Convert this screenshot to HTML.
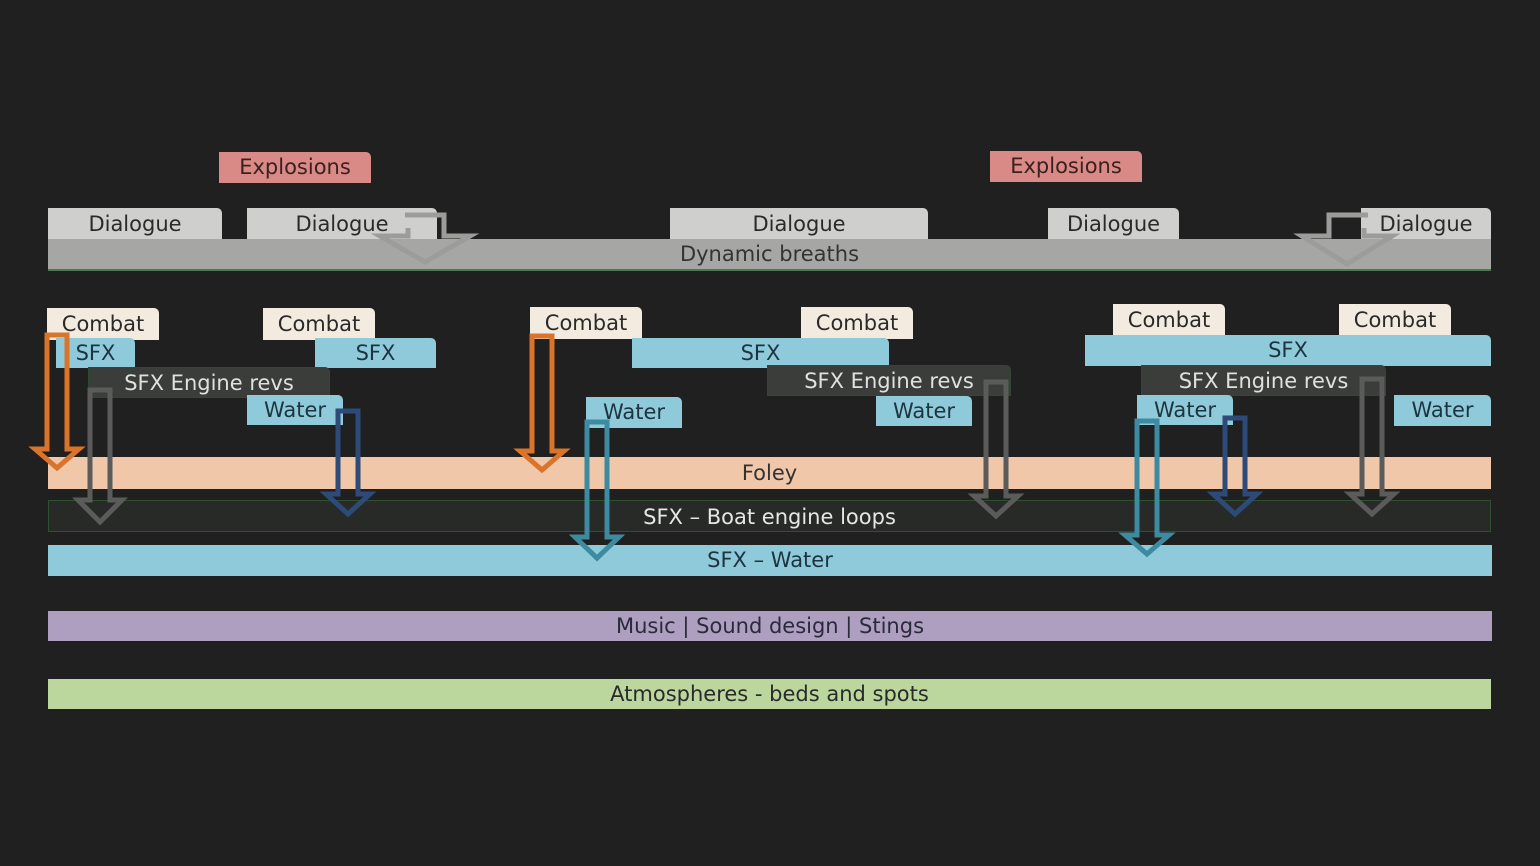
<!DOCTYPE html>
<html><head><meta charset="utf-8"><style>
html,body{margin:0;padding:0;background:#1f201f;}
body{width:1540px;height:866px;position:relative;overflow:hidden;font-family:"DejaVu Sans","Liberation Sans",sans-serif;}
.b{position:absolute;text-align:center;font-size:21px;color:#2a2a2a;border-top-right-radius:5px;box-sizing:border-box;white-space:nowrap;}
.exp{background:#d98a86;color:#3a2020;}
.dia{background:#cfd0cd;color:#2a2a2a;}
.com{background:#f3ebe0;color:#2a2a2a;}
.sfx{background:#8ecad9;color:#1d3440;}
.eng{background:#3b3d3b;color:#e0e0e0;border:1px solid #2f4a30;}
.bar{position:absolute;text-align:center;font-size:21px;box-sizing:border-box;}
</style></head><body>

<div class="b exp" style="left:219px;top:152px;width:152px;height:31px;line-height:31px;">Explosions</div>
<div class="b exp" style="left:990px;top:151px;width:152px;height:31px;line-height:31px;">Explosions</div>

<div class="b dia" style="left:48px;top:208px;width:174px;height:32px;line-height:32px;">Dialogue</div>
<div class="b dia" style="left:247px;top:208px;width:190px;height:32px;line-height:32px;padding-right:90px;padding-left:0;"><span style="position:relative;left:45px">Dialogue</span></div>
<div class="b dia" style="left:670px;top:208px;width:258px;height:32px;line-height:32px;">Dialogue</div>
<div class="b dia" style="left:1048px;top:208px;width:131px;height:32px;line-height:32px;">Dialogue</div>
<div class="b dia" style="left:1361px;top:208px;width:130px;height:32px;line-height:32px;">Dialogue</div>

<div class="bar" style="left:48px;top:239px;width:1443px;height:32px;line-height:31px;background:#a6a7a4;color:#333;border-bottom:2px solid #4c7a4e;">Dynamic breaths</div>

<div class="b com" style="left:47px;top:308px;width:112px;height:32px;line-height:32px;">Combat</div>
<div class="b com" style="left:263px;top:308px;width:112px;height:32px;line-height:32px;">Combat</div>
<div class="b com" style="left:530px;top:307px;width:112px;height:32px;line-height:32px;">Combat</div>
<div class="b com" style="left:801px;top:307px;width:112px;height:32px;line-height:32px;">Combat</div>
<div class="b com" style="left:1113px;top:304px;width:112px;height:32px;line-height:32px;">Combat</div>
<div class="b com" style="left:1339px;top:304px;width:112px;height:32px;line-height:32px;">Combat</div>

<div class="b sfx" style="left:56px;top:338px;width:79px;height:30px;line-height:30px;">SFX</div>
<div class="b sfx" style="left:315px;top:338px;width:121px;height:30px;line-height:30px;">SFX</div>
<div class="b sfx" style="left:632px;top:338px;width:257px;height:30px;line-height:30px;">SFX</div>
<div class="b sfx" style="left:1085px;top:335px;width:406px;height:31px;line-height:31px;">SFX</div>

<div class="b eng" style="left:88px;top:367px;width:242px;height:31px;line-height:31px;">SFX Engine revs</div>
<div class="b eng" style="left:767px;top:365px;width:244px;height:31px;line-height:31px;">SFX Engine revs</div>
<div class="b eng" style="left:1141px;top:365px;width:245px;height:31px;line-height:31px;">SFX Engine revs</div>

<div class="b sfx" style="left:247px;top:395px;width:96px;height:30px;line-height:30px;">Water</div>
<div class="b sfx" style="left:586px;top:397px;width:96px;height:31px;line-height:31px;">Water</div>
<div class="b sfx" style="left:876px;top:396px;width:96px;height:30px;line-height:30px;">Water</div>
<div class="b sfx" style="left:1137px;top:395px;width:96px;height:30px;line-height:30px;">Water</div>
<div class="b sfx" style="left:1394px;top:395px;width:97px;height:31px;line-height:31px;">Water</div>

<div class="bar" style="left:48px;top:457px;width:1443px;height:32px;line-height:32px;background:#f0c7a8;color:#333;">Foley</div>
<div class="bar" style="left:48px;top:500px;width:1443px;height:32px;line-height:32px;background:#282a28;color:#e6e6e6;border:1px solid #2f5030;">SFX – Boat engine loops</div>
<div class="bar" style="left:48px;top:545px;width:1444px;height:31px;line-height:31px;background:#8ecad9;color:#1d3440;">SFX – Water</div>
<div class="bar" style="left:48px;top:611px;width:1444px;height:30px;line-height:30px;background:#ae9fc0;color:#2a2a3a;">Music | Sound design | Stings</div>
<div class="bar" style="left:48px;top:679px;width:1443px;height:30px;line-height:30px;background:#bcd79e;color:#2a2a2a;">Atmospheres - beds and spots</div>

<svg width="1540" height="866" style="position:absolute;left:0;top:0" fill="none" stroke-width="5" stroke-linejoin="miter">
<path d="M405 215 H444 V236 H470 L425 262 L380 236 H408 V228" stroke="#9c9d9a"/>
<path d="M1368 215 H1329 V236 H1302 L1347 264 L1392 236 H1364 V228" stroke="#9c9d9a"/>
<path d="M47 335 H67 V449 H79 L57 468 L35 449 H47 Z" stroke="#d9742a"/>
<path d="M532 336 H552 V451 H564 L542 470 L520 451 H532 Z" stroke="#d9742a"/>
<path d="M90 390 H110 V500 H122 L100 522 L78 500 H90 Z" stroke="#5a5b5a"/>
<path d="M338 411 H358 V494 H370 L348 514 L326 494 H338 Z" stroke="#2d4a78"/>
<path d="M587 422 H607 V537 H619 L597 558 L575 537 H587 Z" stroke="#3e8aa0"/>
<path d="M986 382 H1006 V496 H1018 L996 516 L974 496 H986 Z" stroke="#5a5b5a"/>
<path d="M1137 421 H1157 V535 H1169 L1147 554 L1125 535 H1137 Z" stroke="#3e8aa0"/>
<path d="M1225 418 H1245 V494 H1257 L1235 514 L1213 494 H1225 Z" stroke="#2d4a78"/>
<path d="M1362 379 H1382 V494 H1394 L1372 514 L1350 494 H1362 Z" stroke="#5a5b5a"/>
</svg>
</body></html>
